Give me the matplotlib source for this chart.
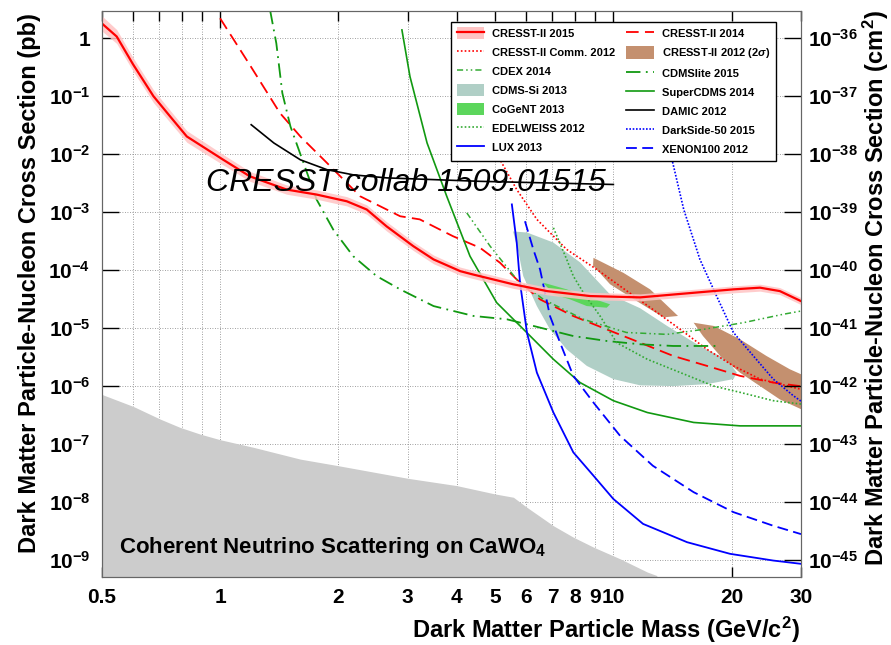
import numpy as np
import matplotlib
matplotlib.use('Agg')
import matplotlib.pyplot as plt
from matplotlib.lines import Line2D
from matplotlib.patches import Patch
from matplotlib.ticker import FixedLocator, FuncFormatter

plt.rcParams['font.family'] = ['Liberation Sans', 'DejaVu Sans']
plt.rcParams['font.weight'] = 'bold'
plt.rcParams['mathtext.fontset'] = 'custom'
plt.rcParams['mathtext.rm'] = 'Liberation Sans:bold'
plt.rcParams['mathtext.bf'] = 'Liberation Sans:bold'
plt.rcParams['mathtext.it'] = 'Liberation Sans:italic:bold'

# ---- data: mass (GeV/c^2), cross section (pb) ----
cresst15_m = [0.5, 0.546, 0.60, 0.677, 0.746, 0.823, 1.018, 1.19, 1.477, 1.76, 2.10, 2.36, 2.65, 3.10,
              3.49, 4.08, 4.40, 5.56, 6.78, 8.73, 11.7, 20.2, 23.6, 26.5, 30]
cresst15_s = [1.81, 1.07, 0.36, 0.1, 0.045, 0.0202, 0.00804, 0.00415, 0.00245, 0.00201, 0.00154,
              0.00111, 5.7e-4, 2.59e-4, 1.53e-4, 9.6e-5, 8.4e-5, 5.7e-5, 4.35e-5, 3.57e-5, 3.39e-5,
              4.66e-5, 4.98e-5, 4.35e-5, 2.92e-5]
cresst15_w = [0.13, 0.12, 0.115, 0.11, 0.105, 0.10, 0.09, 0.085, 0.08, 0.08, 0.08, 0.08, 0.08, 0.075,
              0.075, 0.07, 0.07, 0.07, 0.065, 0.065, 0.06, 0.06, 0.06, 0.06, 0.06]  # band half width (dex)

cresst14_m = [1.0, 1.19, 1.42, 1.60, 1.87, 2.27, 2.87, 3.22, 3.91, 4.58, 5.15, 5.68, 6.51, 7.90,
              9.62, 11.7, 14.2, 17.3, 21.0, 25.5, 29.8]
cresst14_s = [2.21, 0.347, 0.0512, 0.0202, 0.00706, 0.00188, 8.5e-4, 7.5e-4, 3.85e-4, 2.43e-4,
              1.34e-4, 6.9e-5, 3.13e-5, 1.62e-5, 9.5e-6, 5.6e-6, 3.31e-6, 2.23e-6, 1.5e-6, 1.15e-6, 1.0e-6]

comm12_m = [4.95, 5.68, 6.39, 7.61, 9.07, 10.4, 12.6, 14.8, 17.3, 20.2, 23.6, 29.8]
comm12_s = [1.3e-2, 2.45e-3, 7.5e-4, 2.27e-4, 1.03e-4, 5.3e-5, 2.1e-5, 9.5e-6, 4.3e-6, 2.23e-6,
            1.32e-6, 8.9e-7]

c12a_m = [8.90, 10.6, 12.4, 14.6, 13.4, 11.5, 9.81, 8.88]
c12a_s = [1.63e-4, 9.0e-5, 4.66e-5, 1.62e-5, 1.53e-5, 2.89e-5, 5.7e-5, 1.2e-4]
c12b_m = [16.0, 18.0, 21.0, 24.5, 28.1, 30, 30, 26.5, 23.6, 21.0, 18.7, 16.9]
c12b_s = [1.24e-5, 1.09e-5, 6.4e-6, 3.31e-6, 1.95e-6, 1.6e-6, 4.0e-7, 5.9e-7, 1.0e-6, 1.7e-6,
          3.3e-6, 7.3e-6]

cdmssi_m = [5.56, 6.03, 7.03, 8.23, 9.81, 11.7, 13.7, 16.6, 19.4, 20.6, 20.2, 17.3, 14.2, 11.7,
            10.0, 8.56, 7.61, 6.90, 6.39, 5.90, 5.74]
cdmssi_s = [4.64e-4, 4.46e-4, 3.0e-4, 1.36e-4, 3.8e-5, 2.2e-5, 1.09e-5, 4.9e-6, 2.9e-6, 1.71e-6,
            1.32e-6, 1.08e-6, 1.0e-6, 1.03e-6, 1.32e-6, 2.23e-6, 4.3e-6, 9.5e-6, 2.4e-5, 7.9e-5, 2.0e-4]

cogent_m = [6.64, 7.61, 8.73, 9.81, 9.62, 8.56, 7.76, 7.04]
cogent_s = [6.07e-5, 4.66e-5, 3.35e-5, 2.57e-5, 2.25e-5, 2.4e-5, 3.13e-5, 3.82e-5]

cdex_m = [4.24, 4.86, 5.68, 6.64, 8.39, 10.8, 13.7, 16.9, 21.4, 27.0, 30]
cdex_s = [9.7e-4, 2.59e-4, 6.9e-5, 3.13e-5, 1.42e-5, 8.4e-6, 7.8e-6, 9.5e-6, 1.24e-5, 1.73e-5, 1.97e-5]

cdmslite_m = [1.34, 1.39, 1.44, 1.51, 1.63, 1.76, 1.94, 2.18, 2.50, 2.87, 3.49, 4.41, 5.36, 6.51,
              7.91, 9.62, 11.7, 14.2, 18.7]
cdmslite_s = [3.07, 0.82, 0.113, 0.030, 7.06e-3, 1.65e-3, 5.0e-4, 1.74e-4, 7.9e-5, 4.66e-5, 2.4e-5,
              1.62e-5, 1.42e-5, 1.02e-5, 7.3e-6, 6.0e-6, 5.26e-6, 4.92e-6, 4.92e-6]

supercdms_m = [2.90, 3.04, 3.36, 3.77, 4.32, 5.05, 6.02, 7.04, 8.23, 10.0, 12.2, 16.0, 21.0, 30]
supercdms_s = [1.39, 0.218, 0.0156, 1.88e-3, 1.74e-4, 2.75e-5, 8.4e-6, 2.9e-6, 1.15e-6, 5.6e-7,
               3.5e-7, 2.36e-7, 2.06e-7, 2.06e-7]

damic_m = [1.20, 1.37, 1.60, 1.87, 2.18, 2.65, 4.58, 10.0]
damic_s = [0.0322, 0.0156, 8.0e-3, 5.4e-3, 4.4e-3, 3.9e-3, 3.4e-3, 3.0e-3]

edelweiss_m = [7.04, 7.61, 7.91, 8.39, 9.25, 10.2, 12.2, 14.8, 18.0, 21.0, 25.5, 30]
edelweiss_s = [5.37e-4, 1.53e-4, 7.9e-5, 4.08e-5, 1.62e-5, 5.6e-6, 2.9e-6, 1.71e-6, 1.0e-6, 7.8e-7,
               5.6e-7, 4.9e-7]

darkside_m = [13.3, 14.1, 15.1, 16.6, 18.3, 20.2, 22.7, 25.5, 28.7, 30]
darkside_s = [0.039, 8.0e-3, 1.11e-3, 1.53e-4, 3.57e-5, 8.4e-6, 3.31e-6, 1.32e-6, 6.8e-7, 5.5e-7]

lux_m = [5.52, 5.68, 5.79, 6.03, 6.39, 7.04, 7.91, 8.90, 10.0, 11.9, 15.4, 19.8, 25.5, 30]
lux_s = [1.36e-3, 2.96e-4, 6.07e-5, 8.4e-6, 1.71e-6, 3.5e-7, 7.2e-8, 2.85e-8, 1.13e-8, 4.2e-9,
         2.03e-9, 1.28e-9, 9.8e-10, 8.6e-10]

xenon_m = [5.96, 6.26, 6.51, 6.90, 7.32, 7.91, 8.90, 10.4, 12.6, 16.0, 20.2, 25.5, 30]
xenon_s = [6.97e-4, 2.27e-4, 1.03e-4, 1.62e-5, 5.6e-6, 1.5e-6, 5.2e-7, 1.39e-7, 4.23e-8, 1.48e-8,
           6.7e-9, 3.9e-9, 2.8e-9]

nu_m = [0.5, 0.602, 0.704, 0.791, 0.889, 1.0, 1.215, 1.6, 2.0, 3.0, 4.0, 5.0, 5.57, 6.03, 7.04,
        7.91, 8.90, 10.4, 12.2, 12.9]
nu_s = [7.2e-7, 4.45e-7, 2.7e-7, 1.94e-7, 1.49e-7, 1.19e-7, 8.8e-8, 5.5e-8, 4.23e-8, 2.57e-8,
        1.92e-8, 1.38e-8, 1.21e-8, 8.1e-9, 3.9e-9, 2.48e-9, 1.67e-9, 1.05e-9, 6.2e-10, 5.4e-10]

x_major = [1, 10]
x_minor = [0.5, 0.6, 0.7, 0.8, 0.9, 2, 3, 4, 5, 6, 7, 8, 9, 20, 30]
x_labeled = [0.5, 2, 3, 4, 5, 6, 7, 8, 9, 20, 30]

RED = '#ff0000'
BLUE = '#0000ff'
PINK = '#ffc4c4'
BROWN = '#c4906f'
TEAL = '#b0cfc6'
COGENT = '#5cd65c'
GREEN = '#119911'
LGREEN = '#33aa33'

fig = plt.figure(figsize=(8.91, 6.45), dpi=100)
ax = fig.add_axes([0.1141, 0.1059, 0.7849, 0.8771])
ax.set_xscale('log')
ax.set_yscale('log')
ax.set_xlim(0.5, 30)
ax.set_ylim(5.16e-10, 2.95)

# neutrino floor
ax.fill_between(nu_m, nu_s, 1e-12, color='#cccccc', lw=0, zorder=1)

# contours
ax.fill(cdmssi_m, cdmssi_s, color=TEAL, lw=0, zorder=2)
ax.fill(c12a_m, c12a_s, color=BROWN, lw=0, zorder=2)
ax.fill(c12b_m, c12b_s, color=BROWN, lw=0, zorder=2)
ax.fill(cogent_m, cogent_s, color=COGENT, lw=0, zorder=2.5)

# limit curves
ax.plot(cresst14_m, cresst14_s, color=RED, lw=1.3, ls=(0, (7, 3.5)), zorder=3)
ax.plot(comm12_m, comm12_s, color=RED, lw=1.2, ls=(0, (1, 1.3)), zorder=3)
ax.plot(cdex_m, cdex_s, color=LGREEN, lw=1.1, ls=(0, (4, 2, 1, 2, 1, 2)), zorder=3)
ax.plot(cdmslite_m, cdmslite_s, color=GREEN, lw=1.3, ls=(0, (8, 3, 1, 3)), zorder=3)
ax.plot(supercdms_m, supercdms_s, color=GREEN, lw=1.2, zorder=3)
ax.plot(damic_m, damic_s, color='black', lw=1.2, zorder=3)
ax.plot(edelweiss_m, edelweiss_s, color=LGREEN, lw=1.2, ls=(0, (1, 1.3)), zorder=3)
ax.plot(darkside_m, darkside_s, color=BLUE, lw=1.2, ls=(0, (1, 1)), zorder=3)
ax.plot(lux_m, lux_s, color=BLUE, lw=1.3, zorder=3)
ax.plot(xenon_m, xenon_s, color=BLUE, lw=1.3, ls=(0, (6, 3)), zorder=3)

# CRESST-II 2015 with band
c15 = np.array(cresst15_s)
w15 = np.array(cresst15_w)
ax.fill_between(cresst15_m, c15 * 10**-w15, c15 * 10**w15, color=PINK, alpha=0.85, lw=0, zorder=4)
ax.plot(cresst15_m, cresst15_s, color=RED, lw=1.6, zorder=5)

# axes / ticks
ax.xaxis.set_major_locator(FixedLocator(x_major))
ax.xaxis.set_minor_locator(FixedLocator(x_minor))
ax.xaxis.set_major_formatter(FuncFormatter(lambda v, p: '%g' % v))
ax.xaxis.set_minor_formatter(FuncFormatter(lambda v, p: ('%g' % v) if any(abs(v - t) < 1e-6 for t in x_labeled) else ''))


def ylab(v, p):
    e = int(round(np.log10(v)))
    return '1' if e == 0 else r'$10^{%d}$' % e


ax.yaxis.set_major_locator(FixedLocator([10.0**e for e in range(-9, 1)]))
ax.yaxis.set_major_formatter(FuncFormatter(ylab))
ax.tick_params(which='both', direction='in', top=True, right=False, labelsize=15, pad=8)
ax.tick_params(axis='x', which='major', length=12, width=1)
ax.tick_params(axis='x', which='minor', length=7, width=1, labelsize=15, pad=8)
ax.tick_params(axis='y', which='major', length=12, width=1)
ax.tick_params(axis='y', which='minor', length=6, width=0.8)
ax.grid(True, which='both', axis='x', color='0.5', lw=0.6, ls=(0, (1, 2)), zorder=0)
ax.grid(True, which='major', axis='y', color='0.5', lw=0.6, ls=(0, (1, 2)), zorder=0)
ax.set_axisbelow(True)
for s in ax.spines.values():
    s.set_color('0.4')

ax2 = ax.twinx()
ax2.set_yscale('log')
ax2.set_ylim(5.16e-10 * 1e-36, 2.95 * 1e-36)
ax2.yaxis.set_major_locator(FixedLocator([10.0**e for e in range(-45, -35)]))
ax2.yaxis.set_major_formatter(FuncFormatter(lambda v, p: r'$10^{%d}$' % int(round(np.log10(v)))))
ax2.tick_params(which='both', direction='in', labelsize=15, pad=5)
ax2.tick_params(which='major', length=12, width=1)
ax2.tick_params(which='minor', length=6, width=0.8)
for s in ax2.spines.values():
    s.set_color('0.4')

# texts
ax.text(0.149, 0.696, 'CRESST collab 1509.01515', transform=ax.transAxes, fontsize=23,
        style='italic', weight='normal', ha='left', va='center', zorder=6)
ax.text(0.025, 0.041, r'Coherent Neutrino Scattering on CaWO$_4$', transform=ax.transAxes,
        fontsize=16, ha='left', va='baseline', zorder=6)

fig.text(30 / 891, 0.5605, 'Dark Matter Particle-Nucleon Cross Section (pb)', rotation=90,
         fontsize=17, ha='center', va='center')
fig.text(876 / 891, 0.553, r'Dark Matter Particle-Nucleon Cross Section (cm$^2$)', rotation=90,
         fontsize=17, ha='center', va='center')
fig.text(800 / 891, 1 - 630 / 645, r'Dark Matter Particle Mass (GeV/c$^2$)',
         fontsize=17, ha='right', va='center')

# legend
handles = [
    (Patch(facecolor=PINK, edgecolor='none'), Line2D([], [], color=RED, lw=1.6)),
    Line2D([], [], color=RED, lw=1.2, ls=(0, (1, 1.3))),
    Line2D([], [], color=LGREEN, lw=1.1, ls=(0, (4, 2, 1, 2, 1, 2))),
    Patch(facecolor=TEAL, edgecolor='none'),
    Patch(facecolor=COGENT, edgecolor='none'),
    Line2D([], [], color=LGREEN, lw=1.2, ls=(0, (1, 1.3))),
    Line2D([], [], color=BLUE, lw=1.3),
    Line2D([], [], color=RED, lw=1.3, ls=(0, (7, 3.5))),
    Patch(facecolor=BROWN, edgecolor='none'),
    Line2D([], [], color=GREEN, lw=1.3, ls=(0, (8, 3, 1, 3))),
    Line2D([], [], color=GREEN, lw=1.2),
    Line2D([], [], color='black', lw=1.2),
    Line2D([], [], color=BLUE, lw=1.2, ls=(0, (1, 1))),
    Line2D([], [], color=BLUE, lw=1.3, ls=(0, (6, 3))),
]
labels = ['CRESST-II 2015', 'CRESST-II Comm. 2012', 'CDEX 2014', 'CDMS-Si 2013', 'CoGeNT 2013',
          'EDELWEISS 2012', 'LUX 2013', 'CRESST-II 2014', r'CRESST-II 2012 (2$\sigma$)',
          'CDMSlite 2015', 'SuperCDMS 2014', 'DAMIC 2012', 'DarkSide-50 2015', 'XENON100 2012']
leg = ax2.legend(handles, labels, ncol=2, loc='upper right', bbox_to_anchor=(0.972, 0.991),
                 fancybox=False, edgecolor='black', framealpha=1, fontsize=8, handlelength=2.5,
                 handleheight=1.3, columnspacing=1.0, labelspacing=0.62, borderpad=0.5,
                 handletextpad=0.7)
leg.get_frame().set_linewidth(1.0)

fig.savefig('out.png', dpi=100)
